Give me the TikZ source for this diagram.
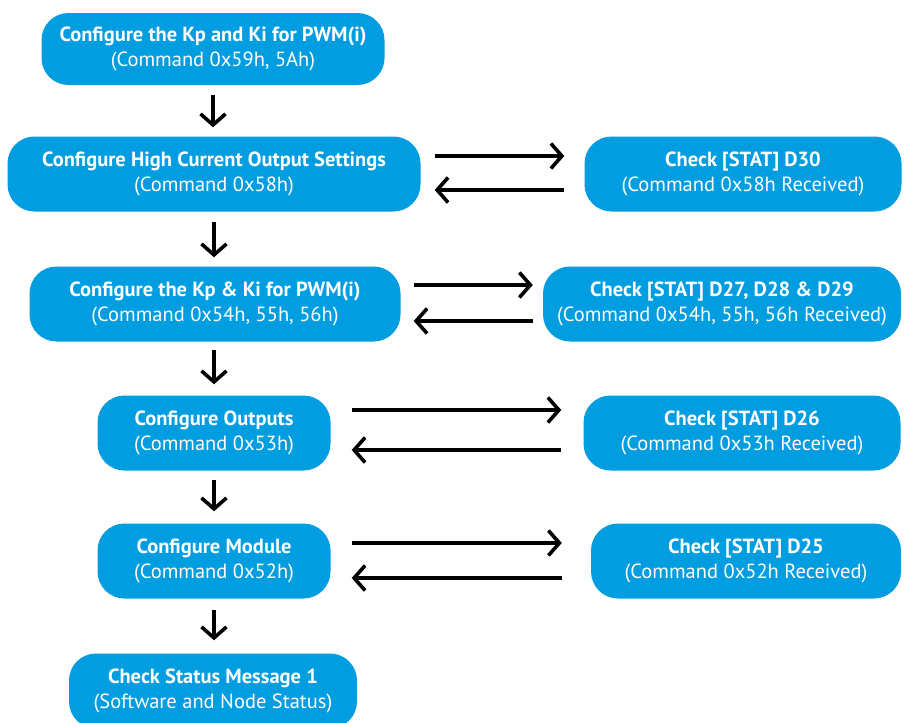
\documentclass[tikz,border=0pt]{standalone}
\usepackage{fontspec}
\setmainfont{PT Sans}
\usetikzlibrary{arrows.meta}
\definecolor{boxblue}{RGB}{0,157,224}

\begin{document}
\begin{tikzpicture}[x=1pt, y=-1pt,
    stepbox/.style={fill=boxblue, text=white, rounded corners=27pt, align=center,
        minimum height=75pt, inner sep=0pt, font=\fontsize{20.5}{24.5}\selectfont},
    flow/.style={line width=3.6pt, -{Straight Barb[length=11pt, width=25pt, line width=3.6pt]}}]

    \useasboundingbox (0,0) rectangle (908,723);

    % --- 1. Main column (left) ---
    \node[stepbox, minimum width=343pt, minimum height=72pt] (kpki) at (213,49)
        {\textbf{Configure the Kp and Ki for PWM(i)}\\(Command 0x59h, 5Ah)};
    \node[stepbox, minimum width=413pt] (hco) at (214,174)
        {\textbf{Configure High Current Output Settings}\\(Command 0x58h)};
    \node[stepbox, minimum width=371pt] (kpkii) at (215,304)
        {\textbf{Configure the Kp \& Ki for PWM(i)}\\(Command 0x54h, 55h, 56h)};
    \node[stepbox, minimum width=233pt] (outs) at (214,433)
        {\textbf{Configure Outputs}\\(Command 0x53h)};
    \node[stepbox, minimum width=233pt] (mod) at (214,561)
        {\textbf{Configure Module}\\(Command 0x52h)};
    \node[stepbox, minimum width=288pt] (stat) at (213,691)
        {\textbf{Check Status Message 1}\\(Software and Node Status)};

    % --- 2. Status checks (right) ---
    \node[stepbox, minimum width=317pt] (dthirty) at (743,174)
        {\textbf{Check [STAT] D30}\\(Command 0x58h Received)};
    \node[stepbox, minimum width=358pt] (dtwentyseven) at (722,304)
        {\textbf{Check [STAT] D27, D28 \& D29}\\(Command 0x54h, 55h, 56h Received)};
    \node[stepbox, minimum width=317pt] (dtwentysix) at (742,433)
        {\textbf{Check [STAT] D26}\\(Command 0x53h Received)};
    \node[stepbox, minimum width=310pt] (dtwentyfive) at (746,561)
        {\textbf{Check [STAT] D25}\\(Command 0x52h Received)};

    % --- 3. Downward arrows ---
    \draw[flow, shorten <=10pt, shorten >=9pt] (kpki.south) -- (kpki.south |- hco.north);
    \draw[flow, shorten <=10pt, shorten >=9pt] (hco.south) -- (hco.south |- kpkii.north);
    \draw[flow, shorten <=8pt, shorten >=11pt] (kpkii.south -| hco.south) -- (hco.south |- outs.north);
    \draw[flow, shorten <=9pt, shorten >=12pt] (outs.south) -- (mod.north);
    \draw[flow, shorten <=11pt, shorten >=13pt] (mod.south) -- (mod.south |- stat.north);

    % --- 4. Request / reply arrows ---
    \draw[flow] ([xshift=14pt, yshift=18pt]hco.east) -- ([xshift=-20pt, yshift=18pt]dthirty.west);
    \draw[flow] ([xshift=-20pt, yshift=-16pt]dthirty.west) -- ([xshift=14pt, yshift=-16pt]hco.east);

    \draw[flow] ([xshift=13pt, yshift=19pt]kpkii.east) -- ([xshift=-10pt, yshift=19pt]dtwentyseven.west);
    \draw[flow] ([xshift=-10pt, yshift=-17pt]dtwentyseven.west) -- ([xshift=13pt, yshift=-17pt]kpkii.east);

    \draw[flow] ([xshift=21pt, yshift=23pt]outs.east) -- ([xshift=-22pt, yshift=23pt]dtwentysix.west);
    \draw[flow] ([xshift=-22pt, yshift=-17pt]dtwentysix.west) -- ([xshift=21pt, yshift=-17pt]outs.east);

    \draw[flow] ([xshift=21pt, yshift=18pt]mod.east) -- ([xshift=-29pt, yshift=18pt]dtwentyfive.west);
    \draw[flow] ([xshift=-29pt, yshift=-17pt]dtwentyfive.west) -- ([xshift=21pt, yshift=-17pt]mod.east);

\end{tikzpicture}
\end{document}
